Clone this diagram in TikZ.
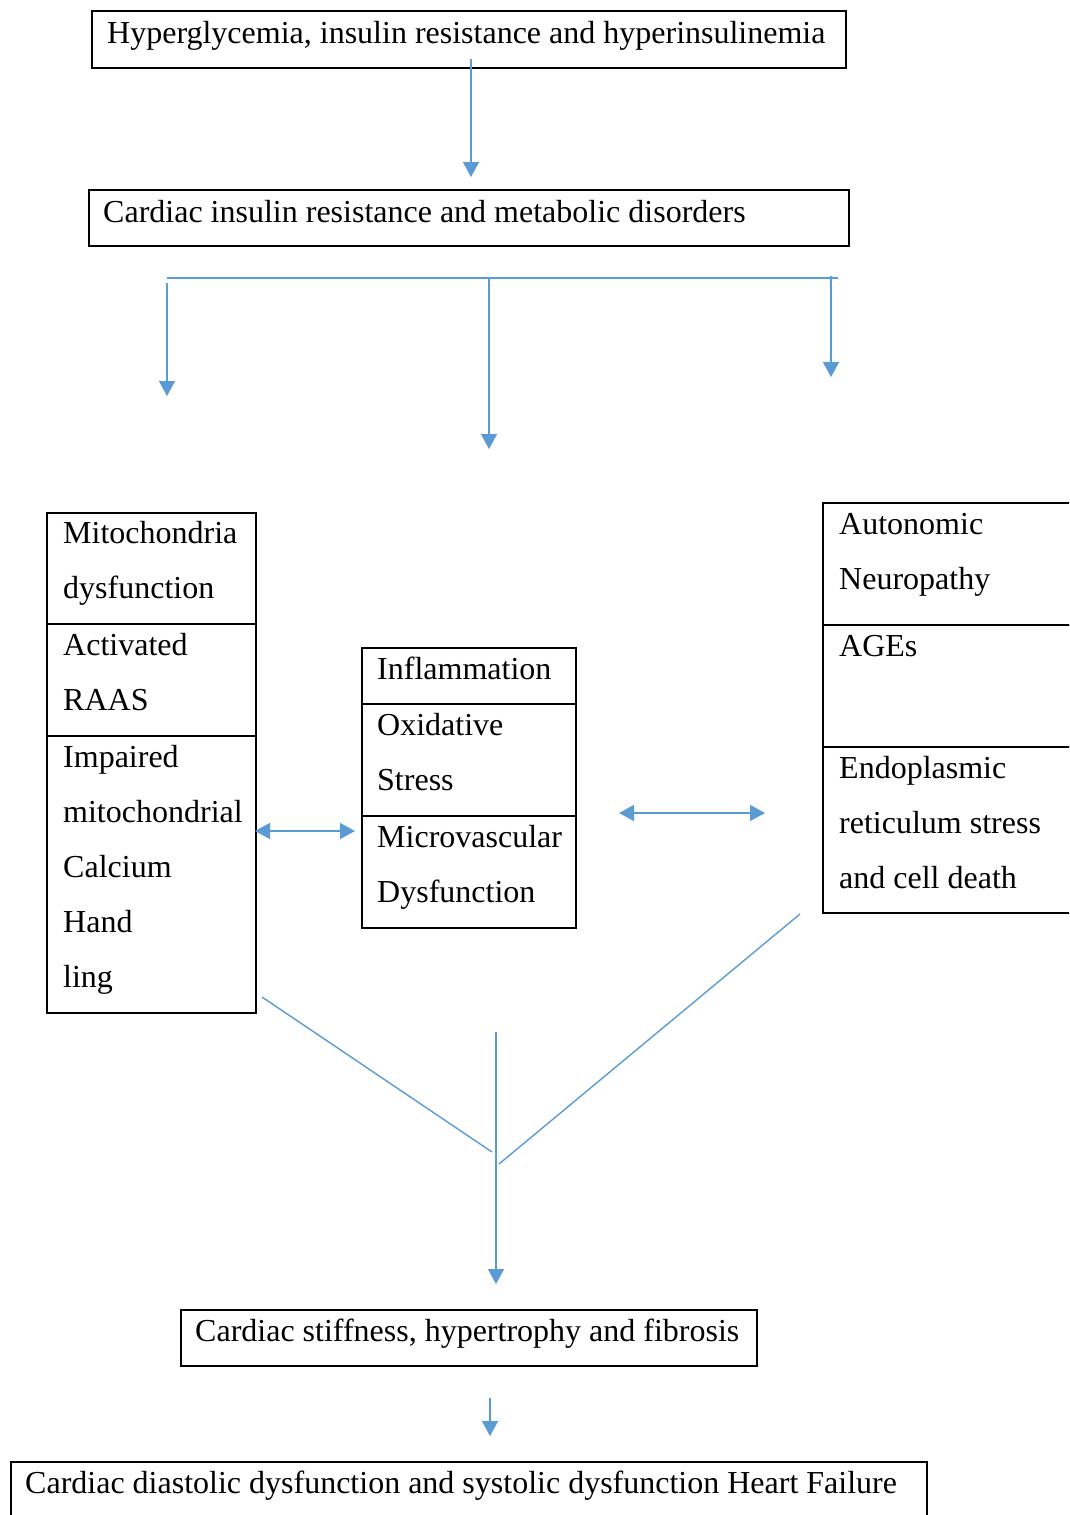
\documentclass[tikz,border=0pt]{standalone}
\usepackage{fontspec}
\setmainfont{Liberation Serif}
\usetikzlibrary{arrows.meta}
\definecolor{flowblue}{HTML}{5B9BD5}
\tikzset{
  box/.style={draw=black, line width=2pt, inner sep=0pt, anchor=north west},
  txt/.style={inner sep=0pt, anchor=north west, align=left, font=\fontsize{32}{55}\selectfont},
  conn/.style={draw=flowblue, line width=1.4pt},
  arr/.style={conn, -{Triangle[length=15pt,width=16pt]}},
  darr/.style={conn, {Triangle[length=15pt,width=16pt]}-{Triangle[length=15pt,width=16pt]}}
}
\newcommand{\tl}[3]{\node[txt] (#1) at (#2) {\strut #3};}
\begin{document}
\begin{tikzpicture}[x=1pt,y=-1pt]
\useasboundingbox (0,0) rectangle (1069,1515);
\clip (0,0) rectangle (1069,1515);
% boxes
\node[box, minimum width=754pt, minimum height=57pt] (b1) at (91,10) {};
\node[box, minimum width=760pt, minimum height=56pt] (b2) at (88,189) {};
\node[box, minimum width=209pt, minimum height=111pt] (l1) at (46,512) {};
\node[box, minimum width=209pt, minimum height=112pt] (l2) at (46,623) {};
\node[box, minimum width=209pt, minimum height=277pt] (l3) at (46,735) {};
\node[box, minimum width=214pt, minimum height=56pt] (m1) at (361,647) {};
\node[box, minimum width=214pt, minimum height=112pt] (m2) at (361,703) {};
\node[box, minimum width=214pt, minimum height=112pt] (m3) at (361,815) {};
\node[box, minimum width=260pt, minimum height=122pt] (r1) at (822,502) {};
\node[box, minimum width=260pt, minimum height=122pt] (r2) at (822,624) {};
\node[box, minimum width=260pt, minimum height=166pt] (r3) at (822,746) {};
\node[box, minimum width=576pt, minimum height=56pt] (b3) at (180,1309) {};
\node[box, minimum width=916pt, minimum height=70pt] (b4) at (10,1461) {};
% texts (baseline minus 38.5)
\tl{t1}{107,4.5}{Hyperglycemia, insulin resistance and hyperinsulinemia}
\tl{t2}{103,183.5}{Cardiac insulin resistance and metabolic disorders}
\tl{tl1}{63,504.5}{Mitochondria\\dysfunction}
\tl{tl2}{63,616.5}{Activated\\RAAS}
\tl{tl3}{63,728.5}{Impaired\\mitochondrial\\Calcium\\Hand\\ling}
\tl{tm1}{377,640.5}{Inflammation}
\tl{tm2}{377,696.5}{Oxidative\\Stress}
\tl{tm3}{377,808.5}{Microvascular\\Dysfunction}
\tl{tr1}{839,495.5}{Autonomic\\Neuropathy}
\tl{tr2}{839,617.5}{AGEs}
\tl{tr3}{839,739.5}{Endoplasmic\\reticulum stress\\and cell death}
\tl{t3}{195,1302.5}{Cardiac stiffness, hypertrophy and fibrosis}
\tl{t4}{25,1454.5}{Cardiac diastolic dysfunction and systolic dysfunction Heart Failure}
% connector end points
\coordinate (a1s) at (471,59);
\coordinate (a1e) at (471,177);
\coordinate (hbl) at (167,278);
\coordinate (hbr) at (838,278);
\coordinate (las) at (167,283);
\coordinate (lae) at (167,396);
\coordinate (mas) at (489,278);
\coordinate (mae) at (489,449);
\coordinate (ras) at (831,276);
\coordinate (rae) at (831,377);
\coordinate (d1s) at (255,831);
\coordinate (d1e) at (355,831);
\coordinate (d2s) at (619,813);
\coordinate (d2e) at (765,813);
\coordinate (vls) at (262,997);
\coordinate (vle) at (492,1152);
\coordinate (vrs) at (800,914);
\coordinate (vre) at (499,1164);
\coordinate (vcs) at (496,1032);
\coordinate (vce) at (496,1284);
\coordinate (fas) at (490,1398);
\coordinate (fae) at (490,1436);
% connectors
\draw[arr] (a1s) -- (a1e);
\draw[conn] (hbl) -- (hbr);
\draw[arr] (las) -- (lae);
\draw[arr] (mas) -- (mae);
\draw[arr] (ras) -- (rae);
\draw[darr] (d1s) -- (d1e);
\draw[darr] (d2s) -- (d2e);
\draw[conn] (vls) -- (vle);
\draw[conn] (vrs) -- (vre);
\draw[arr] (vcs) -- (vce);
\draw[arr] (fas) -- (fae);
\end{tikzpicture}
\end{document}
